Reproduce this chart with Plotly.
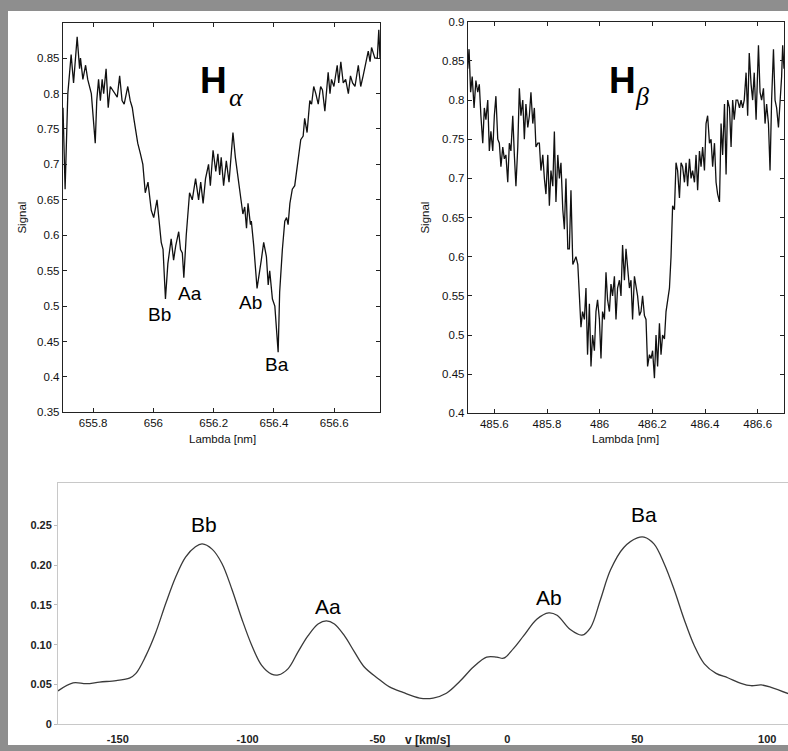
import plotly.graph_objects as go

W, H = 788, 751

# ---------------- H-alpha spectrum ----------------
ha_lambda = [655.700, 655.707, 655.716, 655.727, 655.735, 655.747, 655.755, 655.758, 655.766, 655.775,
             655.782, 655.790, 655.794, 655.807, 655.812, 655.818, 655.824, 655.830, 655.835, 655.843,
             655.850, 655.857, 655.871, 655.880, 655.888, 655.896, 655.903, 655.915, 655.923, 655.930,
             655.935, 655.943, 655.948, 655.957, 655.965, 655.973, 655.982, 655.993, 656.001, 656.012,
             656.018, 656.026, 656.032, 656.040, 656.048, 656.059, 656.067, 656.074, 656.084, 656.090,
             656.096, 656.101, 656.109, 656.120, 656.129, 656.140, 656.150, 656.157, 656.165, 656.173,
             656.178, 656.183, 656.189, 656.198, 656.207, 656.214, 656.220, 656.225, 656.233, 656.242,
             656.251, 656.264, 656.272, 656.281, 656.289, 656.297, 656.303, 656.309, 656.314, 656.322,
             656.325, 656.333, 656.344, 656.353, 656.358, 656.366, 656.375, 656.381, 656.386, 656.395,
             656.403, 656.414, 656.419, 656.428, 656.436, 656.442, 656.447, 656.453, 656.461, 656.469,
             656.478, 656.489, 656.497, 656.502, 656.510, 656.519, 656.525, 656.532, 656.539, 656.547,
             656.555, 656.561, 656.569, 656.580, 656.586, 656.591, 656.599, 656.610, 656.615, 656.622,
             656.630, 656.638, 656.647, 656.654, 656.661, 656.669, 656.680, 656.688, 656.696, 656.705,
             656.713, 656.719, 656.724, 656.735, 656.743, 656.748, 656.752]
ha_signal = [0.78, 0.665, 0.80, 0.855, 0.815, 0.88, 0.835, 0.85, 0.82, 0.84,
             0.82, 0.805, 0.80, 0.73, 0.79, 0.82, 0.79, 0.82, 0.80, 0.835,
             0.78, 0.81, 0.80, 0.795, 0.825, 0.79, 0.785, 0.81, 0.79, 0.78,
             0.765, 0.74, 0.73, 0.715, 0.70, 0.66, 0.675, 0.635, 0.625, 0.65,
             0.62, 0.59, 0.58, 0.51, 0.56, 0.595, 0.565, 0.585, 0.605, 0.58,
             0.575, 0.54, 0.60, 0.66, 0.65, 0.68, 0.65, 0.675, 0.645, 0.68,
             0.69, 0.70, 0.67, 0.72, 0.69, 0.715, 0.685, 0.71, 0.67, 0.705,
             0.675, 0.745, 0.71, 0.68, 0.66, 0.63, 0.64, 0.61, 0.645, 0.615,
             0.62, 0.585, 0.525, 0.555, 0.565, 0.59, 0.57, 0.53, 0.55, 0.51,
             0.50, 0.435, 0.52, 0.58, 0.62, 0.625, 0.615, 0.645, 0.665, 0.67,
             0.70, 0.735, 0.74, 0.765, 0.745, 0.79, 0.785, 0.81, 0.80, 0.785,
             0.81, 0.805, 0.775, 0.83, 0.80, 0.82, 0.81, 0.84, 0.815, 0.845,
             0.815, 0.82, 0.80, 0.825, 0.815, 0.81, 0.84, 0.81, 0.825, 0.845,
             0.86, 0.845, 0.865, 0.85, 0.85, 0.89, 0.85]

# ---------------- H-beta spectrum ----------------
hb_lambda = [485.499, 485.504, 485.510, 485.516, 485.523, 485.530, 485.537, 485.543, 485.549, 485.556,
             485.562, 485.568, 485.575, 485.581, 485.587, 485.594, 485.600, 485.606, 485.613, 485.619,
             485.625, 485.632, 485.638, 485.644, 485.651, 485.657, 485.663, 485.670, 485.676, 485.682,
             485.689, 485.695, 485.701, 485.708, 485.714, 485.720, 485.727, 485.733, 485.739, 485.746,
             485.752, 485.758, 485.765, 485.771, 485.777, 485.784, 485.790, 485.796, 485.803, 485.809,
             485.815, 485.822, 485.828, 485.834, 485.841, 485.847, 485.853, 485.860, 485.866, 485.872,
             485.879, 485.885, 485.891, 485.898, 485.904, 485.910, 485.917, 485.923, 485.929, 485.935,
             485.942, 485.948, 485.954, 485.961, 485.967, 485.973, 485.980, 485.986, 485.992, 485.999,
             486.005, 486.011, 486.018, 486.024, 486.030, 486.037, 486.043, 486.049, 486.056, 486.062,
             486.068, 486.075, 486.081, 486.087, 486.094, 486.100, 486.106, 486.113, 486.119, 486.125,
             486.132, 486.138, 486.144, 486.151, 486.157, 486.163, 486.170, 486.176, 486.182, 486.189,
             486.195, 486.201, 486.208, 486.214, 486.220, 486.227, 486.233, 486.239, 486.246, 486.252,
             486.258, 486.265, 486.271, 486.277, 486.284, 486.290, 486.296, 486.303, 486.309, 486.315,
             486.322, 486.328, 486.334, 486.341, 486.347, 486.353, 486.360, 486.366, 486.372, 486.379,
             486.385, 486.391, 486.398, 486.404, 486.410, 486.417, 486.423, 486.429, 486.436, 486.442,
             486.448, 486.455, 486.461, 486.467, 486.474, 486.480, 486.486, 486.493, 486.499, 486.505,
             486.511, 486.518, 486.524, 486.531, 486.537, 486.543, 486.549, 486.556, 486.562, 486.568,
             486.575, 486.581, 486.587, 486.594, 486.603, 486.609, 486.615, 486.622, 486.628, 486.634,
             486.641, 486.647, 486.653, 486.660, 486.666, 486.672, 486.679, 486.685, 486.691, 486.695,
             486.700]
hb_signal = [0.84, 0.865, 0.81, 0.83, 0.79, 0.825, 0.81, 0.82, 0.78, 0.745,
             0.79, 0.775, 0.80, 0.735, 0.76, 0.735, 0.78, 0.805, 0.75, 0.745,
             0.715, 0.74, 0.725, 0.73, 0.695, 0.745, 0.735, 0.78, 0.73, 0.69,
             0.74, 0.815, 0.78, 0.80, 0.75, 0.795, 0.765, 0.78, 0.81, 0.77,
             0.79, 0.74, 0.745, 0.745, 0.71, 0.73, 0.70, 0.68, 0.73, 0.665,
             0.71, 0.69, 0.76, 0.67, 0.73, 0.70, 0.72, 0.66, 0.635, 0.70,
             0.61, 0.61, 0.685, 0.59, 0.595, 0.60, 0.59, 0.55, 0.51, 0.53,
             0.52, 0.56, 0.475, 0.54, 0.46, 0.50, 0.48, 0.53, 0.545, 0.52,
             0.47, 0.53, 0.52, 0.58, 0.545, 0.53, 0.565, 0.55, 0.575, 0.52,
             0.56, 0.57, 0.55, 0.615, 0.57, 0.61, 0.585, 0.56, 0.57, 0.52,
             0.575, 0.56, 0.55, 0.525, 0.53, 0.55, 0.525, 0.52, 0.46, 0.475,
             0.47, 0.48, 0.445, 0.50, 0.46, 0.515, 0.475, 0.50, 0.495, 0.53,
             0.545, 0.56, 0.60, 0.665, 0.66, 0.72, 0.71, 0.675, 0.72, 0.715,
             0.695, 0.72, 0.69, 0.725, 0.70, 0.71, 0.695, 0.73, 0.685, 0.735,
             0.715, 0.74, 0.71, 0.77, 0.78, 0.745, 0.75, 0.715, 0.745, 0.695,
             0.68, 0.67, 0.77, 0.73, 0.795, 0.705, 0.80, 0.79, 0.74, 0.80,
             0.775, 0.80, 0.80, 0.79, 0.80, 0.79, 0.80, 0.835, 0.78, 0.86,
             0.82, 0.80, 0.835, 0.775, 0.87, 0.81, 0.80, 0.815, 0.77, 0.795,
             0.77, 0.71, 0.80, 0.865, 0.80, 0.79, 0.765, 0.80, 0.83, 0.87,
             0.84]

# ---------------- Broadening function (velocity profile) ----------------
bf_v = [-173.0, -167.2, -162.1, -157.0, -150.6, -145.5, -143.0, -139.2, -135.4, -131.5,
        -127.7, -123.9, -120.1, -117.5, -113.7, -109.9, -106.0, -102.2, -98.4, -94.6,
        -90.8, -88.2, -84.4, -80.6, -76.8, -72.9, -69.7, -66.6, -62.7, -58.9,
        -55.1, -50.0, -45.4, -40.2, -33.8, -28.6, -23.5, -18.3, -13.1, -8.0,
        -4.1, -1.5, 2.3, 6.2, 11.3, 15.9, 19.1, 24.2, 28.7, 32.0,
        35.8, 39.7, 44.8, 50.0, 52.6, 56.4, 60.3, 64.2, 68.0, 71.9,
        75.8, 80.3, 84.8, 89.9, 93.8, 97.7, 101.5, 108.5]
bf_val = [0.042, 0.052, 0.051, 0.053, 0.055, 0.058, 0.064, 0.086, 0.115, 0.152,
          0.185, 0.210, 0.223, 0.2265, 0.220, 0.202, 0.169, 0.132, 0.099, 0.074,
          0.063, 0.062, 0.070, 0.091, 0.111, 0.126, 0.130, 0.126, 0.111, 0.091,
          0.072, 0.058, 0.047, 0.040, 0.033, 0.033, 0.039, 0.054, 0.072, 0.0845,
          0.0845, 0.083, 0.095, 0.111, 0.132, 0.140, 0.137, 0.119, 0.112, 0.1215,
          0.1565, 0.194, 0.222, 0.234, 0.235, 0.2265, 0.202, 0.169, 0.132, 0.099,
          0.076, 0.064, 0.0585, 0.0515, 0.0485, 0.0495, 0.0465, 0.038]

ha_xticks = [655.8, 656.0, 656.2, 656.4, 656.6]
ha_xticktext = ["655.8", "656", "656.2", "656.4", "656.6"]
ha_yticks = [0.35, 0.4, 0.45, 0.5, 0.55, 0.6, 0.65, 0.7, 0.75, 0.8, 0.85]
ha_yticktext = ["0.35", "0.4", "0.45", "0.5", "0.55", "0.6", "0.65", "0.7", "0.75", "0.8", "0.85"]
hb_xticks = [485.6, 485.8, 486.0, 486.2, 486.4, 486.6]
hb_xticktext = ["485.6", "485.8", "486", "486.2", "486.4", "486.6"]
hb_yticks = [0.4, 0.45, 0.5, 0.55, 0.6, 0.65, 0.7, 0.75, 0.8, 0.85, 0.9]
hb_yticktext = ["0.4", "0.45", "0.5", "0.55", "0.6", "0.65", "0.7", "0.75", "0.8", "0.85", "0.9"]
bf_xticks = [-150, -100, -50, 0, 50, 100]
bf_xticktext = ["-150", "-100", "-50", "0", "50", "100"]
bf_yticks = [0, 0.05, 0.10, 0.15, 0.20, 0.25]
bf_yticktext = ["0", "0.05", "0.10", "0.15", "0.20", "0.25"]

ha_labels = ["Bb", "Aa", "Ab", "Ba"]
ha_label_x = [656.02, 656.12, 656.323, 656.41]
ha_label_y = [0.488, 0.518, 0.505, 0.418]
bf_labels = ["Bb", "Aa", "Ab", "Ba"]
bf_label_x = [-116.7, -69.0, 16.1, 52.4]
bf_label_y = [0.251, 0.148, 0.159, 0.264]

FONT = "Liberation Sans, Arial, sans-serif"


def px(x):
    return x / W


def py(y):
    return 1 - y / H


fig = go.Figure()
fig.add_trace(go.Scatter(x=ha_lambda, y=ha_signal, mode="lines", xaxis="x", yaxis="y",
                         line=dict(color="#111111", width=1.3), hoverinfo="skip", showlegend=False))
fig.add_trace(go.Scatter(x=hb_lambda, y=hb_signal, mode="lines", xaxis="x2", yaxis="y2",
                         line=dict(color="#111111", width=1.3), hoverinfo="skip", showlegend=False))
fig.add_trace(go.Scatter(x=bf_v, y=bf_val, mode="lines", xaxis="x3", yaxis="y3",
                         line=dict(color="#3a3a3a", width=1.3, shape="spline", smoothing=1.0),
                         hoverinfo="skip", showlegend=False))

top_axis = dict(showgrid=False, zeroline=False, showline=True, linecolor="#222222", linewidth=1.4,
                mirror="ticks", ticks="inside", ticklen=4, tickcolor="#222222",
                tickfont=dict(family=FONT, size=11.5, color="#111111"))

annotations = []
# Axis titles for the top panels
for (xc, yc, txt, ang) in [(22, 215, "Signal", -90), (222, 440, "Lambda [nm]", 0),
                           (425, 215, "Signal", -90), (625, 440, "Lambda [nm]", 0)]:
    annotations.append(dict(x=px(xc), y=py(yc), xref="paper", yref="paper", text=txt, showarrow=False,
                            textangle=ang, font=dict(family=FONT, size=11.5, color="#111111"),
                            xanchor="center", yanchor="middle"))
# H alpha / H beta titles
annotations.append(dict(x=656.2, y=0.818, xref="x", yref="y", text="<b>H</b>", showarrow=False,
                        font=dict(family=FONT, size=37, color="#000000"), xanchor="center", yanchor="middle"))
annotations.append(dict(x=656.275, y=0.795, xref="x", yref="y", text="<i>α</i>", showarrow=False,
                        font=dict(family="Liberation Serif, Times New Roman, serif", size=26, color="#000000"),
                        xanchor="center", yanchor="middle"))
annotations.append(dict(x=486.085, y=0.825, xref="x2", yref="y2", text="<b>H</b>", showarrow=False,
                        font=dict(family=FONT, size=37, color="#000000"), xanchor="center", yanchor="middle"))
annotations.append(dict(x=486.162, y=0.805, xref="x2", yref="y2", text="<i>β</i>", showarrow=False,
                        font=dict(family="Liberation Serif, Times New Roman, serif", size=26, color="#000000"),
                        xanchor="center", yanchor="middle"))
for t, xx, yy in zip(ha_labels, ha_label_x, ha_label_y):
    annotations.append(dict(x=xx, y=yy, xref="x", yref="y", text=t, showarrow=False,
                            font=dict(family=FONT, size=19, color="#000000"), xanchor="center", yanchor="middle"))
for t, xx, yy in zip(bf_labels, bf_label_x, bf_label_y):
    annotations.append(dict(x=xx, y=yy, xref="x3", yref="y3", text=t, showarrow=False,
                            font=dict(family=FONT, size=21, color="#000000"), xanchor="center", yanchor="middle"))
annotations.append(dict(x=px(428), y=py(751), xref="paper", yref="paper", text="<b>v [km/s]</b>",
                        showarrow=False, font=dict(family=FONT, size=12, color="#222222"),
                        xanchor="center", yanchor="bottom", yshift=-4))

fig.update_layout(
    width=W, height=H,
    margin=dict(l=0, r=0, t=0, b=0),
    paper_bgcolor="#8e8e8e",
    plot_bgcolor="#ffffff",
    showlegend=False,
    shapes=[dict(type="rect", xref="paper", yref="paper", x0=px(8), x1=1.0, y0=0.0, y1=py(5),
                 fillcolor="#ffffff", line=dict(width=0), layer="below")],
    xaxis=dict(top_axis, domain=[px(63), px(380)], range=[655.7, 656.752], anchor="y",
               tickvals=ha_xticks, ticktext=ha_xticktext),
    yaxis=dict(top_axis, domain=[py(413), py(17)], range=[0.35, 0.9], anchor="x",
               tickvals=ha_yticks, ticktext=ha_yticktext),
    xaxis2=dict(top_axis, domain=[px(468), px(784)], range=[485.5, 486.7], anchor="y2",
                tickvals=hb_xticks, ticktext=hb_xticktext),
    yaxis2=dict(top_axis, domain=[py(414), py(16)], range=[0.4, 0.9], anchor="x2",
                tickvals=hb_yticks, ticktext=hb_yticktext),
    xaxis3=dict(domain=[px(58), 1.0], range=[-173, 108], anchor="y3", showgrid=False, zeroline=False,
                showline=True, linecolor="#c8c8c8", linewidth=1, mirror=True, ticks="",
                ticklabelstandoff=4,
                tickvals=bf_xticks, ticktext=bf_xticktext,
                tickfont=dict(family=FONT, size=11, color="#222222", weight="bold")),
    yaxis3=dict(domain=[py(730), py(485)], range=[0, 0.3027], anchor="x3", showgrid=False, zeroline=False,
                showline=True, linecolor="#c8c8c8", linewidth=1, ticks="outside", ticklen=3,
                tickcolor="#bbbbbb", tickvals=bf_yticks, ticktext=bf_yticktext,
                tickfont=dict(family=FONT, size=11, color="#222222", weight="bold")),
    annotations=annotations,
)

fig.write_html("out.html")
